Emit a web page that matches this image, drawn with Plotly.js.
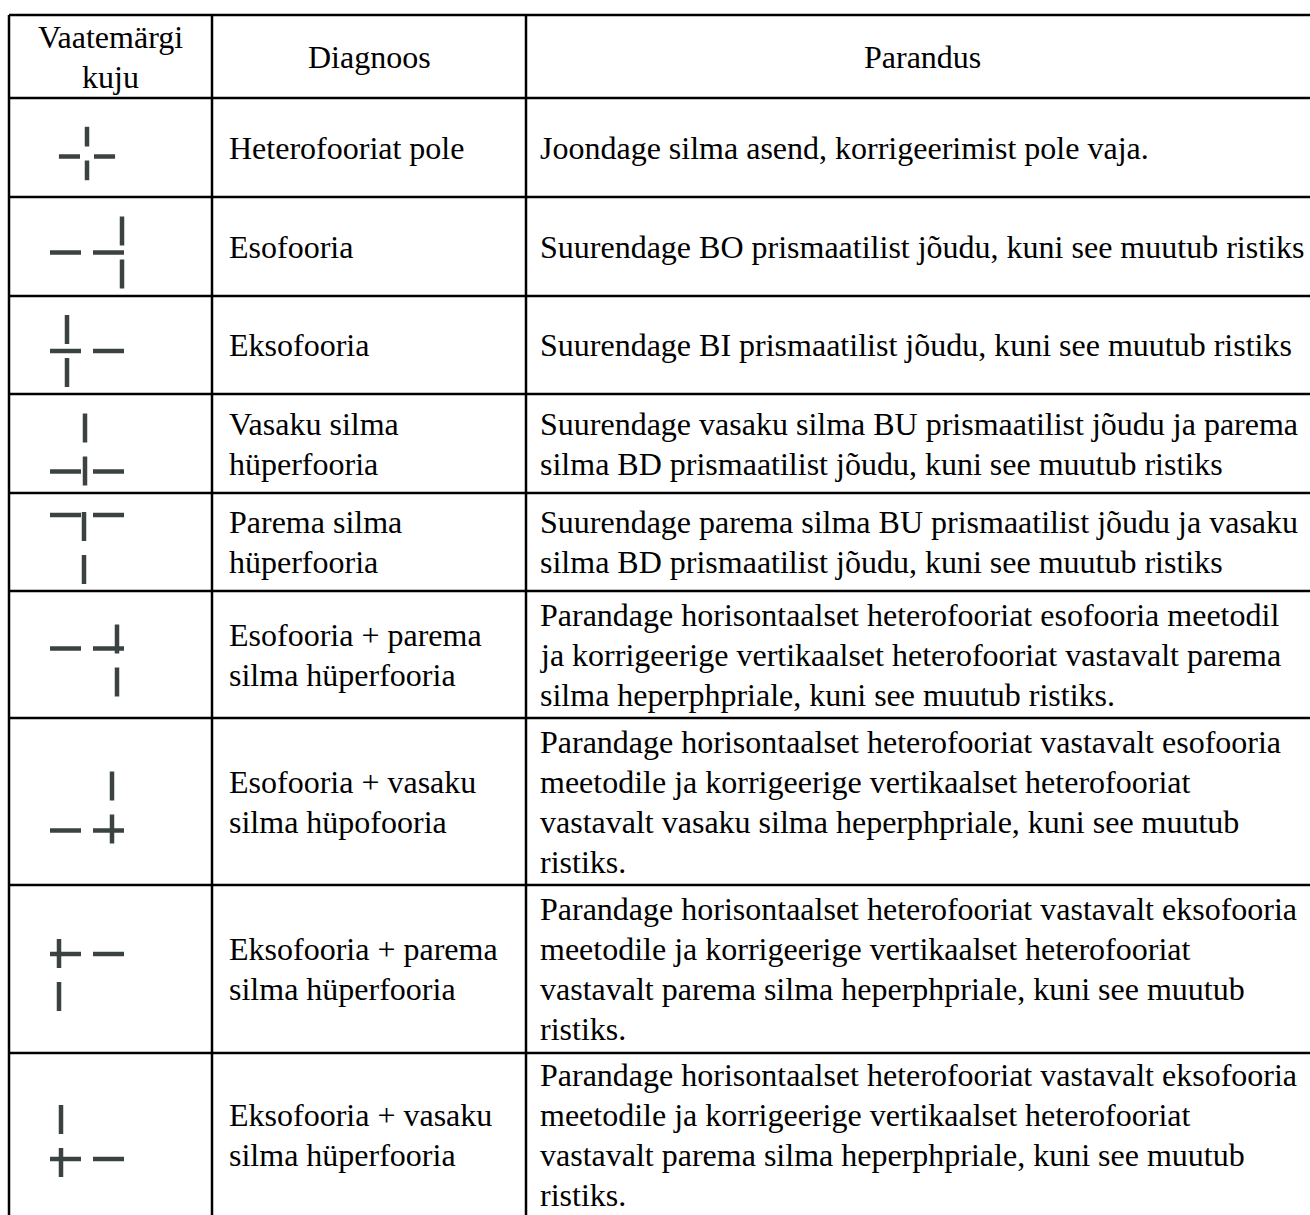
<!DOCTYPE html>
<html>
<head>
<meta charset="utf-8">
<script src="https://cdn.plot.ly/plotly-3.0.1.min.js"></script>
<style>
  html, body { margin: 0; padding: 0; background: #ffffff; }
  #chart { width: 1310px; height: 1215px; }
</style>
</head>
<body>
<div id="chart"></div>
<script>
// ---------------- DATA ----------------
const headers = ["Vaatemärgi<br>kuju", "Diagnoos", "Parandus"];

const diagnoses = [
  "Heterofooriat pole",
  "Esofooria",
  "Eksofooria",
  "Vasaku silma<br>hüperfooria",
  "Parema silma<br>hüperfooria",
  "Esofooria + parema<br>silma hüperfooria",
  "Esofooria + vasaku<br>silma hüpofooria",
  "Eksofooria + parema<br>silma hüperfooria",
  "Eksofooria + vasaku<br>silma hüperfooria"
];

const corrections = [
  "Joondage silma asend, korrigeerimist pole vaja.",
  "Suurendage BO prismaatilist jõudu, kuni see muutub ristiks",
  "Suurendage BI prismaatilist jõudu, kuni see muutub ristiks",
  "Suurendage vasaku silma BU prismaatilist jõudu ja parema<br>silma BD prismaatilist jõudu, kuni see muutub ristiks",
  "Suurendage parema silma BU prismaatilist jõudu ja vasaku<br>silma BD prismaatilist jõudu, kuni see muutub ristiks",
  "Parandage horisontaalset heterofooriat esofooria meetodil<br>ja korrigeerige vertikaalset heterofooriat vastavalt parema<br>silma heperphpriale, kuni see muutub ristiks.",
  "Parandage horisontaalset heterofooriat vastavalt esofooria<br>meetodile ja korrigeerige vertikaalset heterofooriat<br>vastavalt vasaku silma heperphpriale, kuni see muutub<br>ristiks.",
  "Parandage horisontaalset heterofooriat vastavalt eksofooria<br>meetodile ja korrigeerige vertikaalset heterofooriat<br>vastavalt parema silma heperphpriale, kuni see muutub<br>ristiks.",
  "Parandage horisontaalset heterofooriat vastavalt eksofooria<br>meetodile ja korrigeerige vertikaalset heterofooriat<br>vastavalt parema silma heperphpriale, kuni see muutub<br>ristiks."
];

// displacement of the vertical half-cross relative to the horizontal half-cross (as read from the icons)
const shiftX = [0, 35, -20, -2, -3, 30, 25, -28, -26];
const shiftY = [-3, 0, 0, -22, 33, 12, -23, 21, -18];

// ---------------- LAYOUT ----------------
const W = 1310, H = 1215;
const rowEdges = [15, 98, 197, 296, 394, 493, 591, 718, 885, 1053, 1217];
const colEdges = [9, 212, 526, 1318];
const iconArmScale = [0.68, 1, 1, 1, 1, 1, 1, 1, 1];
const H_GAP = 12, H_ARM = 31, V_GAP = 14, V_ARM = 29;
const ICON_X = 87, ICON_DY = 6;
const LINE = 40;
const FONT = {family: "Liberation Serif, Times New Roman, serif", size: 32, color: "#000000"};

const shapes = [];
rowEdges.forEach(y => shapes.push({
  type: "line", xref: "x", yref: "y", x0: colEdges[0], x1: colEdges[colEdges.length - 1], y0: y, y1: y,
  line: {color: "#000000", width: 2.5}
}));
colEdges.forEach(x => shapes.push({
  type: "line", xref: "x", yref: "y", x0: x, x1: x, y0: rowEdges[0], y1: rowEdges[rowEdges.length - 1],
  line: {color: "#000000", width: 2.5}
}));

const annotations = [];
const rowMid = i => (rowEdges[i] + rowEdges[i + 1]) / 2;
const colMid = j => (colEdges[j] + colEdges[j + 1]) / 2;

function addCellText(text, x, yMid, anchor) {
  const lines = text.split("<br>");
  const n = lines.length;
  lines.forEach((ln, k) => annotations.push({
    xref: "x", yref: "y", x: x, y: yMid + (k - (n - 1) / 2) * LINE, text: ln, showarrow: false,
    xanchor: anchor, yanchor: "middle", align: anchor, font: FONT, borderpad: 0
  }));
}

headers.forEach((t, j) => addCellText(t, colMid(j), rowMid(0), "center"));
diagnoses.forEach((t, i) => addCellText(t, colEdges[1] + 16, rowMid(i + 1), "left"));
corrections.forEach((t, i) => addCellText(t, colEdges[2] + 13, rowMid(i + 1), "left"));

// icon segments
const ix = [], iy = [];
shiftX.forEach((dx, i) => {
  const dy = shiftY[i];
  const ha = H_ARM * iconArmScale[i], va = V_ARM * iconArmScale[i];
  const hg = H_GAP + (iconArmScale[i] < 1 ? 2 : 0), vg = V_GAP;
  const xmin = Math.min(-hg / 2 - ha, dx), xmax = Math.max(hg / 2 + ha, dx);
  const ymin = Math.min(0, dy - vg / 2 - va), ymax = Math.max(0, dy + vg / 2 + va);
  const hx = ICON_X - (xmin + xmax) / 2;
  const hy = rowMid(i + 1) + ICON_DY - (ymin + ymax) / 2;
  const vx = hx + dx, vy = hy + dy;
  // horizontal arms
  ix.push(hx - hg / 2 - ha, hx - hg / 2, null, hx + hg / 2, hx + hg / 2 + ha, null);
  iy.push(hy, hy, null, hy, hy, null);
  // vertical arms
  ix.push(vx, vx, null, vx, vx, null);
  iy.push(vy - vg / 2 - va, vy - vg / 2, null, vy + vg / 2, vy + vg / 2 + va, null);
});

const traces = [{
  type: "scatter", mode: "lines", x: ix, y: iy,
  line: {color: "#3b4242", width: 4.5}, hoverinfo: "skip", showlegend: false, connectgaps: false
}];

const layout = {
  width: W, height: H,
  margin: {l: 0, r: 0, t: 0, b: 0, pad: 0},
  paper_bgcolor: "#ffffff", plot_bgcolor: "#ffffff",
  xaxis: {range: [0, W], visible: false, fixedrange: true},
  yaxis: {range: [H, 0], visible: false, fixedrange: true},
  shapes: shapes, annotations: annotations, showlegend: false
};

Plotly.newPlot("chart", traces, layout, {displayModeBar: false, staticPlot: true});
</script>
</body>
</html>
